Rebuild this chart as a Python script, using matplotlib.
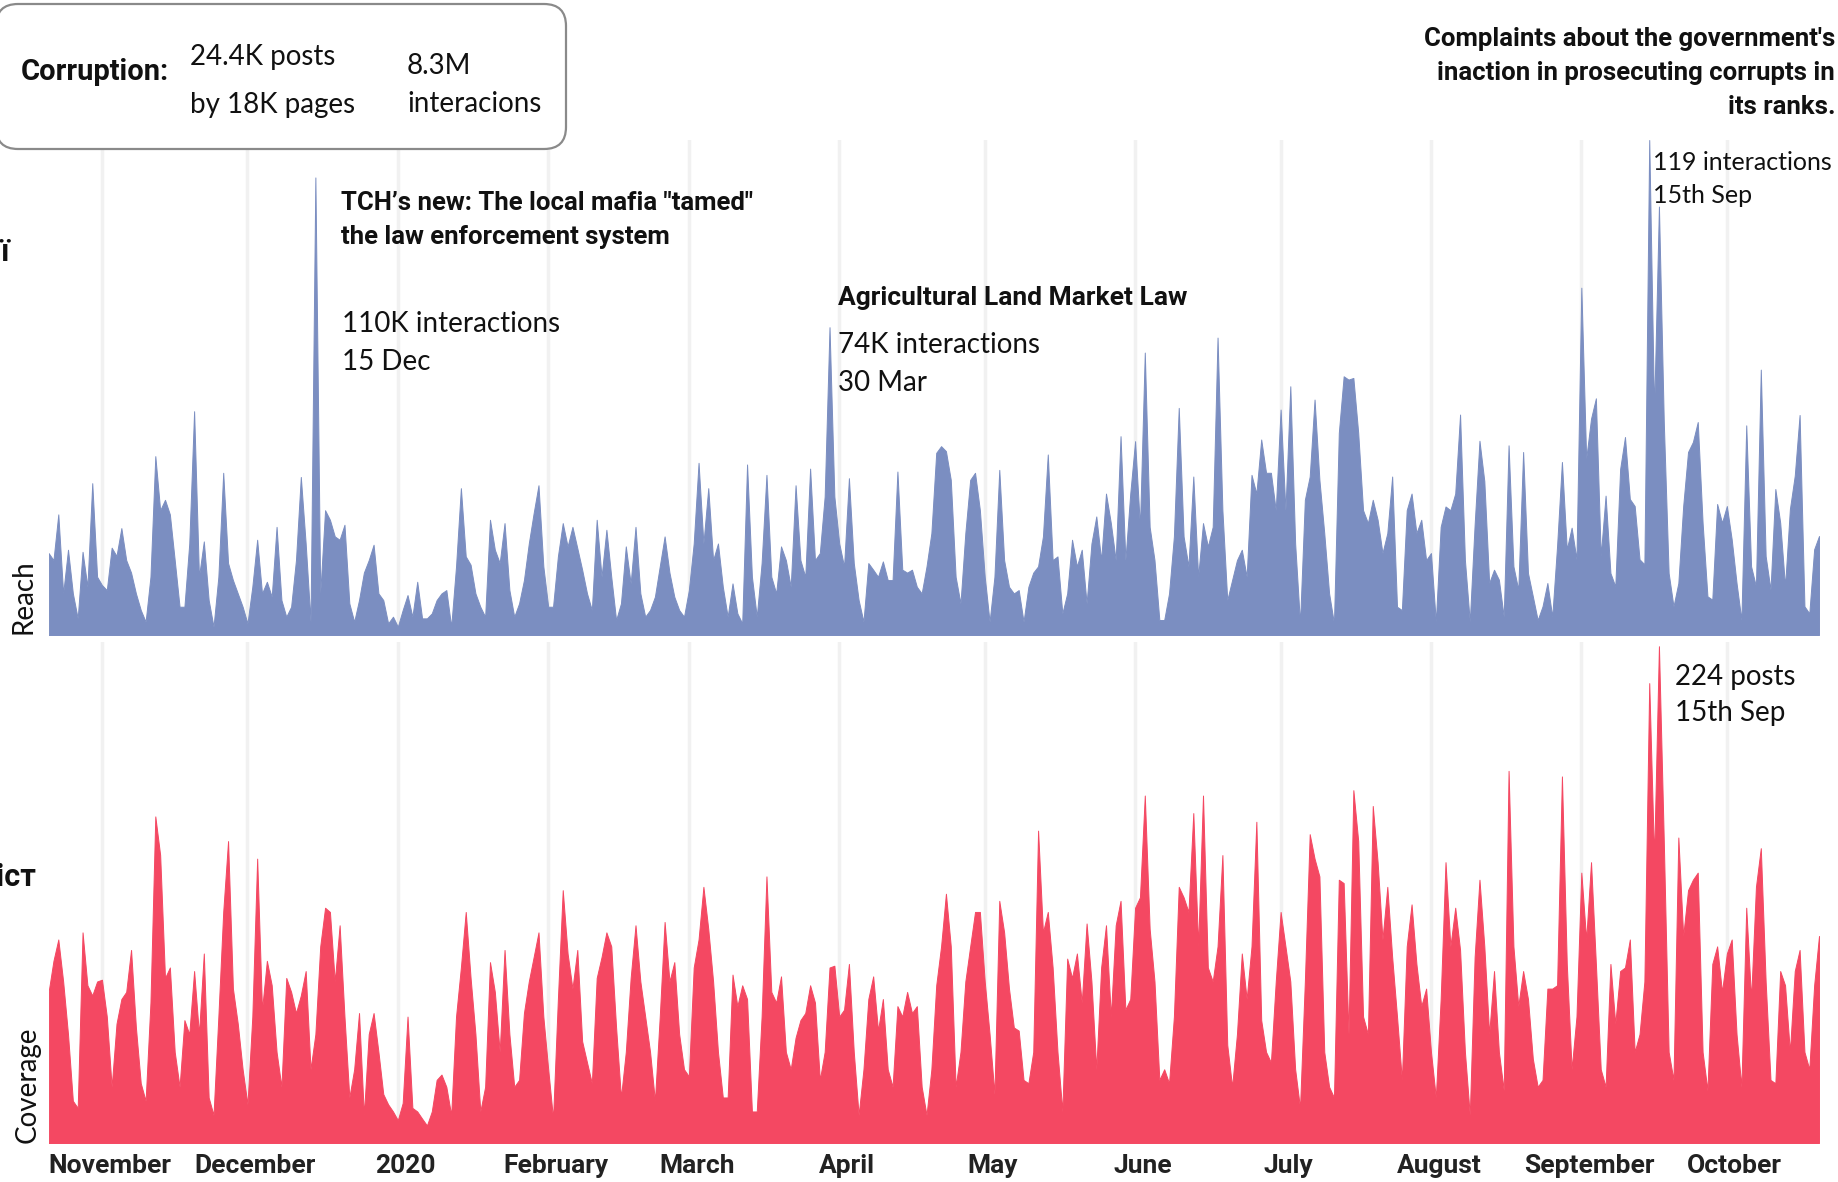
import matplotlib
matplotlib.use("Agg")
import matplotlib.pyplot as plt
from matplotlib.patches import FancyBboxPatch
from matplotlib.transforms import IdentityTransform, ScaledTranslation
import pandas as pd

# daily values, 21 Oct 2019 .. 20 Oct 2020
dates = pd.date_range("2019-10-21", periods=366, freq="D")

# interactions per day, thousands (top panel)
reach = [
    19.7, 18, 29, 10, 20.5, 10, 4, 20, 11.6, 36.5,
    14, 12, 10.8, 21, 19, 25.7, 18, 15, 10, 6,
    3.2, 14, 43, 30, 32.5, 29, 18, 6.8, 6.8, 22,
    53.8, 14, 22.5, 8.4, 2, 14, 39, 17.3, 13.2, 10,
    6.8, 2.8, 11.6, 22.9, 10, 12.8, 9.2, 26, 8.4, 4.4,
    6.8, 18, 38, 22, 3.2, 110, 10, 30, 27.7, 23.7,
    22.9, 26.5, 7.6, 3.2, 8.4, 15, 18, 21.7, 10, 8.4,
    2.8, 4.4, 2, 6, 9.6, 4.4, 12.8, 4, 4, 5.2,
    8.4, 10, 10.8, 2, 16.5, 35.3, 18.9, 16.9, 10, 6.8,
    4.4, 27.7, 20.5, 17.3, 26.9, 10.8, 4.4, 7.6, 13.2, 22,
    29.3, 36, 16.5, 6.8, 6.8, 18.9, 26.9, 21.3, 26, 20.9,
    15.7, 10, 6, 27.7, 14, 25.3, 14, 3.6, 7.6, 21.3,
    12.4, 26, 10, 4.4, 6, 9.2, 16.5, 23.7, 15, 9.2,
    6, 4.4, 10.8, 22, 41.4, 22, 35.3, 18, 22, 11.6,
    4.4, 12.4, 5.2, 2.8, 41, 14, 4.4, 17.3, 38.5, 14,
    10, 21.3, 18, 11.6, 36, 18, 14, 40, 18, 19.7,
    33.3, 74, 33.3, 22, 16.5, 37.7, 17.3, 8.4, 3.2, 17.3,
    15.7, 14, 17.7, 13.2, 13.2, 39.3, 15.7, 15, 15.7, 11.6,
    10, 16.5, 24.5, 43.8, 45.4, 44.2, 37.3, 14, 7.6, 24.5,
    37.3, 39, 30, 14, 3.2, 14, 39.7, 18, 11.6, 10,
    10.8, 3.2, 11.6, 15, 16.5, 23.7, 43.4, 18, 18.9, 5.2,
    10, 22.9, 16.5, 20.5, 7.6, 22, 28.5, 18, 34, 26.9,
    18, 47.8, 18, 34, 46.6, 26, 67.9, 26, 18, 3.6,
    3.6, 10, 23.7, 54.6, 23.7, 16.5, 38.1, 14, 26.9, 21.3,
    26, 71.5, 30, 8.4, 13.2, 18, 20.5, 14, 38.5, 34,
    47, 39, 39, 30, 54.2, 30, 59.8, 22, 2.8, 32.5,
    38.1, 56.6, 37.3, 24.5, 10, 2.8, 48.6, 62.2, 61.4, 61.8,
    48.6, 30, 26.9, 32.5, 27.7, 19.7, 24.5, 38.1, 6.8, 6,
    30, 34, 24.5, 27.7, 18, 19.7, 3.2, 26, 30.9, 30,
    34, 53, 18, 3.2, 26.5, 46.7, 37, 12.5, 15.7, 13.3,
    4.4, 45.6, 16.5, 10.9, 44, 14.9, 9.3, 3.6, 6.9, 12.5,
    4.4, 21.4, 41.6, 20.6, 25.8, 18.2, 83.5, 42.4, 52, 56.9,
    19, 33.5, 14.9, 11.7, 39.9, 47.6, 32.7, 31, 18.2, 17,
    119, 53.7, 103, 51.2, 14.9, 6.9, 12.5, 31, 44, 46.4,
    51.2, 27, 9.3, 8.5, 31.5, 27, 31, 23, 12.5, 3.6,
    50.4, 16.5, 11.7, 63.8, 19, 10.9, 35.1, 27, 11.7, 30.3,
    38.3, 52.9, 6.9, 5.2, 20.6, 23.8,
]

# posts per day (bottom panel)
coverage = [
    68, 82, 91.6, 72.7, 49, 19, 15.8, 94.8, 71, 66.4,
    72.7, 73.5, 56.9, 25.3, 53.7, 64.8, 68, 86.9, 52, 26.9,
    19, 63.2, 147, 129.6, 74.3, 79, 41, 25.3, 55.3, 49,
    77.4, 49, 85.3, 20.5, 12.6, 56.9, 104, 135.9, 69.5, 53.7,
    33.2, 17.4, 56.9, 128, 60, 82, 71, 41, 25.3, 74.3,
    68, 58.5, 66.4, 77.4, 33.2, 49, 88.5, 105.9, 104, 72.7,
    98, 56.9, 20.5, 33.2, 58.5, 12.6, 49, 58.5, 41, 22,
    17.4, 14.2, 10.3, 18, 56.9, 15.8, 14.2, 11, 7.9, 14.2,
    28.4, 30.8, 25.3, 12.6, 56.9, 79, 104, 74.3, 49, 14.2,
    25.3, 81.4, 68, 41, 86.9, 49, 25.3, 28.4, 58.5, 72.7,
    83.7, 94.8, 56.9, 33.2, 11, 64.8, 113.8, 85.3, 69.5, 86.9,
    45.8, 36.3, 26.9, 74.3, 83.7, 94.8, 88.5, 52, 20.5, 41,
    74.3, 98, 72.7, 56.9, 41, 19, 56.9, 99.5, 72.7, 81.4,
    49, 33.2, 30, 79, 91.6, 115.3, 96.4, 72.7, 41, 20.5,
    20.5, 75.8, 61.6, 71, 64.8, 14.2, 14.2, 56.9, 120, 68,
    63.2, 75, 41, 33.2, 47.4, 55.3, 58.5, 71, 63.2, 28.4,
    41, 79, 79.8, 56.9, 60, 80.6, 41, 12.6, 33.2, 64.8,
    75, 50.6, 64.8, 33.2, 25.3, 61.6, 56.9, 68, 58.5, 61.6,
    25.3, 12.6, 33.2, 71, 88.5, 112.2, 88.5, 25.3, 41, 72.7,
    88.5, 104, 104, 72.7, 49, 22, 109, 94.8, 69.5, 52,
    50.6, 28.4, 26.9, 41, 140.6, 94.8, 104, 79, 41, 14.2,
    83, 74.3, 85.3, 63.2, 98.8, 72.7, 33.2, 79, 98, 56.9,
    98, 109, 60, 64.8, 105.9, 110.6, 156.4, 96.4, 72.7, 28.4,
    33.2, 26.9, 56.9, 115.3, 110.6, 104, 148.5, 88.5, 156.4, 79,
    72.7, 88.5, 129.6, 44.2, 25.3, 49, 85.3, 64.8, 88.5, 144.6,
    55.3, 41, 36.3, 72.7, 104, 88.5, 72.7, 33.2, 15.8, 72.7,
    139, 128, 120, 41, 25.3, 20.5, 118.5, 117, 49, 158.8,
    135.9, 56.9, 49, 151.7, 126.4, 91.6, 115.3, 83.7, 56.9, 28.4,
    88.5, 107.4, 80.6, 61.6, 69.5, 41, 20.5, 64.8, 126.4, 88.5,
    105.9, 86.9, 41, 12.6, 83.7, 118.5, 88.5, 49, 77.4, 41,
    23.7, 167.5, 88.5, 61.6, 77.4, 64.8, 37.9, 25.3, 28.4, 69.5,
    69.5, 71, 165, 80.6, 33.2, 56.9, 121.7, 91.6, 126.4, 80.6,
    33.2, 25.3, 80.6, 53.7, 77.4, 79, 91.6, 41, 49, 72.7,
    207, 128, 223.6, 135.9, 41, 28.4, 137.5, 93.2, 113.8, 118.5,
    121.7, 41, 23.7, 80.6, 88.5, 68, 85.3, 91.6, 49, 25.3,
    105.9, 64.8, 115.3, 132.7, 72.7, 28.4, 26.9, 77.4, 71, 41,
    77.4, 86.9, 41, 33.2, 71, 93.2,
]

month_starts = pd.date_range("2019-11-01", "2020-10-01", freq="MS")
month_labels = ["November", "December", "2020", "February", "March", "April",
                "May", "June", "July", "August", "September", "October"]

BLUE = "#7b8ec1"
RED = "#f44862"
INK = "#111111"
BOLD = ["Roboto", "DejaVu Sans"]
LIGHT = ["Lato", "DejaVu Sans"]

W, H = 1838, 1182
fig = plt.figure(figsize=(W / 100, H / 100), dpi=100)


def box(x0, y0, x1, y1):
    # pixel box (from top-left) -> figure fraction rect
    return [x0 / W, 1 - y1 / H, (x1 - x0) / W, (y1 - y0) / H]


def px(x, y):
    return x / W, 1 - y / H


def label(x, y, s, size=20, ls=1.5, **kw):
    kw.setdefault("ha", "left")
    fig.text(*px(x, y), s, va="center", fontsize=size, family=LIGHT,
             color=INK, linespacing=ls, **kw)


def title(x, y, s, size=19, ls=1.45, **kw):
    kw.setdefault("ha", "left")
    fig.text(*px(x, y), s, va="center", fontsize=size, family=BOLD, weight="bold",
             color=INK, linespacing=ls, **kw)


ax1 = fig.add_axes(box(48.6, 140, 1819, 635))
ax2 = fig.add_axes(box(48.6, 642, 1819, 1143))

for ax, vals, col, top in [(ax1, reach, BLUE, 119), (ax2, coverage, RED, 225.5)]:
    ax.fill_between(dates, vals, color=col, lw=0.7, edgecolor=col, zorder=2)
    ax.set_xlim(dates[0], dates[-1])
    ax.set_ylim(0, top)
    ax.set_xticks(month_starts)
    ax.grid(axis="x", color="#f1f1f1", lw=2.5)
    ax.set_axisbelow(True)
    ax.set_yticks([])
    ax.tick_params(length=0)
    for s in ax.spines.values():
        s.set_visible(False)

ax1.set_xticklabels([])
ax2.set_xticklabels(month_labels, family=BOLD, weight="bold", fontsize=19, color="#222222")
ax2.tick_params(axis="x", pad=8)
shift = ScaledTranslation(0.08, 0, fig.dpi_scale_trans)
for t in ax2.get_xticklabels():
    t.set_transform(t.get_transform() + shift)

# axis titles
fig.text(*px(23, 634), "Reach", rotation=90, ha="center", va="bottom",
         fontsize=20, family=LIGHT, color=INK)
fig.text(*px(28, 1143), "Coverage", rotation=90, ha="center", va="bottom",
         fontsize=20, family=LIGHT, color=INK)
fig.text(*px(9, 252), "Взаємодії", ha="right", va="center", fontsize=22,
         family=BOLD, weight="bold", color=INK)
fig.text(*px(36, 877), "Зміст", ha="right", va="center", fontsize=22,
         family=BOLD, weight="bold", color=INK)

# summary box
fig.patches.append(FancyBboxPatch((-4, H - 149), 570, 145, boxstyle="round,pad=0,rounding_size=22",
                                  transform=IdentityTransform(), facecolor="white",
                                  edgecolor="#8a8a8a", lw=1.6, figure=fig))
title(21, 72, "Corruption:", size=21)
label(190, 57, "24.4K posts", size=20)
label(190, 105, "by 18K pages", size=20)
label(407, 66, "8.3M", size=20)
label(407, 104, "interacions", size=20)

# annotations
title(341, 220, "TCH’s new: The local mafia \"tamed\"\nthe law enforcement system", size=18.5, ls=1.55)
label(342, 343, "110K interactions\n15 Dec", ls=1.55)
title(838, 298, "Agricultural Land Market Law")
label(838, 364, "74K interactions\n30 Mar", ls=1.55)
title(1835, 73, "Complaints about the government's\ninaction in prosecuting corrupts in\nits ranks.",
      size=18.5, ha="right", ls=1.52)
label(1653, 179, "119 interactions\n15th Sep", size=18, ls=1.5)
label(1675, 695, "224 posts\n15th Sep", ls=1.5)

fig.savefig("out.png", dpi=100, facecolor="white")
